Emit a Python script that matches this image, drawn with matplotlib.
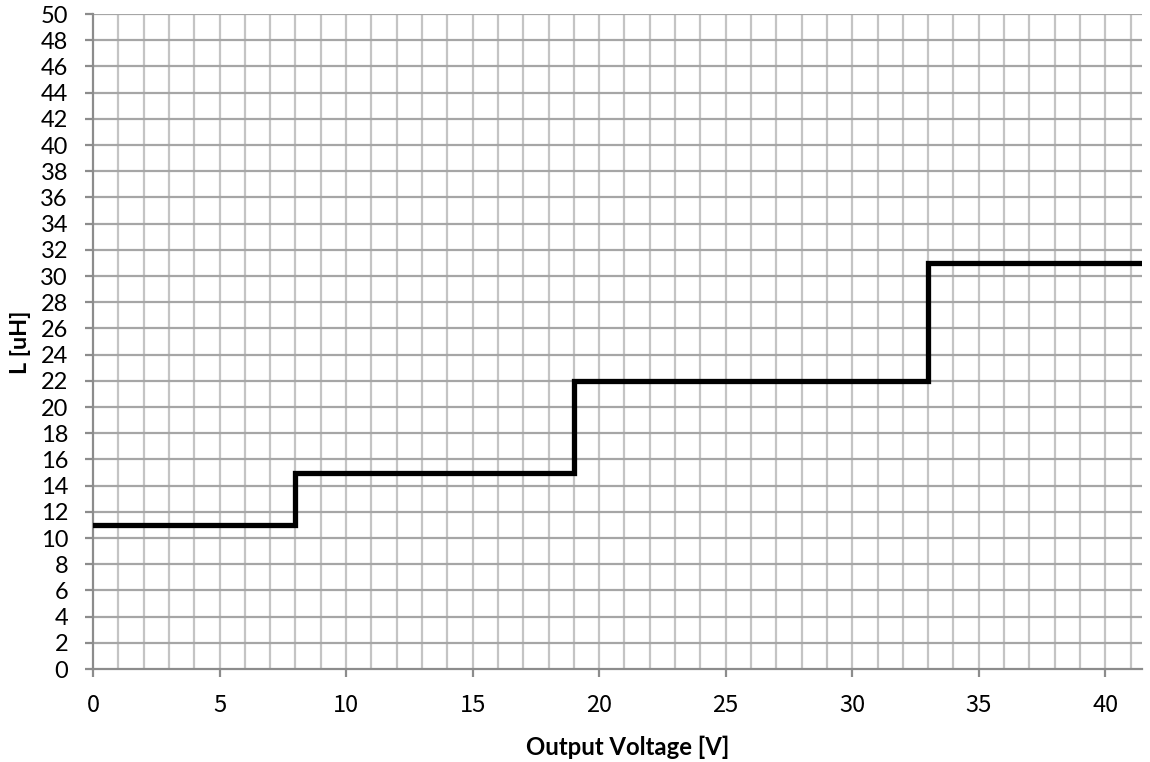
import numpy as np
import matplotlib.pyplot as plt

# step data: output voltage [V] vs inductance [uH]
volt = [0, 8, 19, 33, 41.45]
induct = [11, 15, 22, 31, 31]

x_ticks = [0, 5, 10, 15, 20, 25, 30, 35, 40]
y_ticks = list(range(0, 51, 2))

fig = plt.figure(figsize=(11.5, 7.62), dpi=100)
ax = fig.add_axes([0.0809, 0.122, 0.9121, 0.8596])

ax.set_xlim(0, 41.45)
ax.set_ylim(0, 50)

# vertical grid every 1 V (light), horizontal every 2 uH (darker)
for xv in range(1, 42):
    ax.axvline(xv, color='#c4c4c4', lw=1.6, zorder=1)
for yv in y_ticks[1:]:
    ax.axhline(yv, color='#a6a6a6', lw=1.6, zorder=1)

ax.plot(volt, induct, drawstyle='steps-post', color='black', lw=3.8,
        solid_joinstyle='miter', zorder=3)

ax.set_xticks(x_ticks)
ax.set_yticks(y_ticks)
ax.set_xticklabels([str(v) for v in x_ticks], fontfamily='Noto Sans CJK JP', fontsize=17)
ax.set_yticklabels([str(v) for v in y_ticks], fontfamily='Lato', fontsize=17)
ax.tick_params(axis='both', direction='out', length=6, width=1.6, color='#8c8c8c')
ax.tick_params(axis='x', pad=12)
ax.tick_params(axis='y', pad=12)

for s in ['top', 'right']:
    ax.spines[s].set_visible(False)
for s in ['left', 'bottom']:
    ax.spines[s].set_color('#8c8c8c')
    ax.spines[s].set_linewidth(1.6)

fig.text(0.546, 0.019, 'Output Voltage [V]', ha='center', va='center',
         fontfamily='Lato', fontweight='bold', fontsize=17.2)
fig.text(0.018, 0.551, 'L [uH]', ha='center', va='center', rotation=90,
         fontfamily='Lato', fontweight='bold', fontsize=16.8)

fig.savefig('out.png', dpi=100)
